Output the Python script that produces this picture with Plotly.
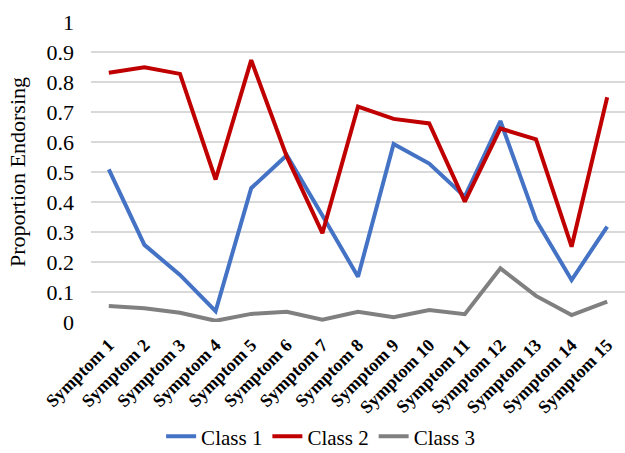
import plotly.graph_objects as go

symptoms = [f"Symptom {i}" for i in range(1, 16)]
class1 = [0.509, 0.257, 0.157, 0.036, 0.446, 0.556, 0.355, 0.151, 0.593, 0.528, 0.418, 0.670, 0.340, 0.140, 0.318]
class2 = [0.831, 0.849, 0.827, 0.475, 0.873, 0.551, 0.296, 0.718, 0.677, 0.662, 0.401, 0.645, 0.609, 0.251, 0.749]
class3 = [0.053, 0.046, 0.031, 0.004, 0.027, 0.034, 0.008, 0.034, 0.016, 0.040, 0.026, 0.179, 0.087, 0.023, 0.068]

series = [("Class 1", class1, "#4472C4"), ("Class 2", class2, "#C00000"), ("Class 3", class3, "#808080")]

fig = go.Figure()
for name, vals, color in series:
    fig.add_trace(go.Scatter(x=symptoms, y=vals, mode="lines", name=name,
                             line=dict(color=color, width=4)))

fig.update_layout(
    width=625, height=453,
    margin=dict(l=91, r=0, t=22, b=131),
    plot_bgcolor="white", paper_bgcolor="white",
    font=dict(family="Liberation Serif", size=21, color="#000000"),
    showlegend=True,
    legend=dict(orientation="h", x=0.43, xanchor="center", yref="container", y=0.036, yanchor="middle",
                font=dict(family="Liberation Serif", size=21), itemwidth=30, tracegroupgap=0),
)
fig.update_xaxes(
    range=[-0.5, 14.5], automargin=False,
    tickangle=-45, tickfont=dict(family="Liberation Serif", size=18, weight="bold"),
    ticklabelstandoff=8,
    showgrid=False, zeroline=False, showline=False, ticks="",
)
fig.update_yaxes(
    range=[0, 1], dtick=0.1, showgrid=True, gridcolor="#D9D9D9", gridwidth=1.5,
    zeroline=False, showline=False, ticklabelstandoff=16, automargin=False,
    tickfont=dict(family="Liberation Serif", size=22),
    title=dict(text="Proportion Endorsing", font=dict(family="Liberation Serif", size=22), standoff=14),
)

fig.write_html("out.html")
